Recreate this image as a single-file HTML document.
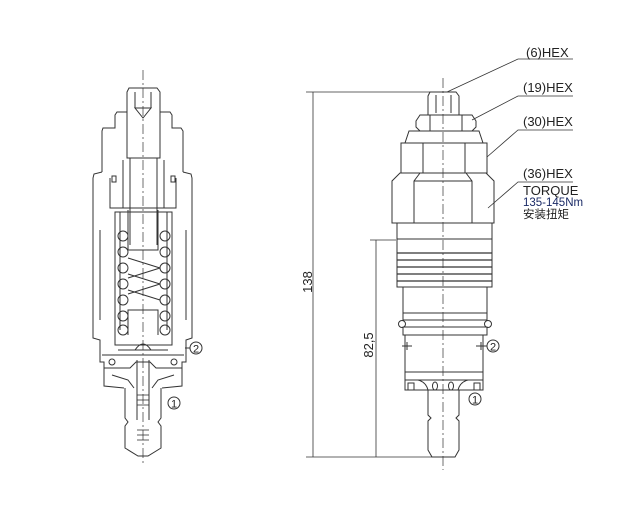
<!DOCTYPE html>
<html><head><meta charset="utf-8"><style>
html,body{margin:0;padding:0;background:#fff;}
svg{display:block;}
text{font-family:"Liberation Sans","Noto Sans CJK SC",sans-serif;fill:#222;}
</style></head><body>
<svg width="636" height="521" viewBox="0 0 636 521" xmlns="http://www.w3.org/2000/svg">
<g fill="none" stroke="#333" stroke-width="1">
<!-- LEFT SECTION VIEW -->
<line x1="143" y1="70" x2="143" y2="465" stroke-dasharray="10,3,2,3" stroke-width="0.7"/>
<path d="M129,88 L157,88 L160,92 L160,158 L127,158 L127,92 Z"/>
<line x1="135" y1="92" x2="135" y2="108"/><line x1="151" y1="92" x2="151" y2="108"/>
<path d="M135,108 L151,108 L143,118 Z"/>
<path d="M127,112 L117,112 L115,115 L115,128 L103,128 L102,131 L102,172"/>
<path d="M160,112 L170,112 L172,115 L172,128 L181,128 L183,131 L183,172"/>
<path d="M102,172 L94,174 L93,178 L93,338 L100,340 L100,362 L104,362 L104,386 L124,388"/>
<path d="M183,172 L191,174 L192,178 L192,338 L186,340 L186,362 L182,362 L182,386 L162,388"/>
<line x1="100" y1="230" x2="100" y2="320"/><line x1="186" y1="230" x2="186" y2="320"/>
<line x1="130" y1="158" x2="130" y2="245"/><line x1="157" y1="158" x2="157" y2="245"/>
<path d="M123,160 L123,208 M164,160 L164,208"/>
<path d="M110,178 L110,208 L176,208 L176,178"/>
<rect x="112" y="176" width="4" height="6"/><rect x="171" y="176" width="4" height="6"/>
<path d="M115,212 L115,345 L172,345 L172,212 Z"/>
<path d="M120,212 L120,330 M167,212 L167,330"/>
<path d="M128,210 L128,250 L158,250 L158,210"/>
<path d="M128,335 L128,310 L158,310 L158,335"/>
<g>
<circle cx="123" cy="236" r="5"/><circle cx="123" cy="252" r="5"/><circle cx="123" cy="268" r="5"/><circle cx="123" cy="284" r="5"/><circle cx="123" cy="300" r="5"/><circle cx="123" cy="316" r="5"/><circle cx="123" cy="330" r="5"/>
<circle cx="165" cy="236" r="5"/><circle cx="165" cy="252" r="5"/><circle cx="165" cy="268" r="5"/><circle cx="165" cy="284" r="5"/><circle cx="165" cy="300" r="5"/><circle cx="165" cy="316" r="5"/><circle cx="165" cy="330" r="5"/>
<path d="M128,258 L160,268 M128,274 L160,284 M128,290 L160,300 M128,278 L160,268 M128,294 L160,284"/>
</g>
<path d="M118,350 L168,350 M135,350 Q143,338 151,350"/>
<path d="M102,355 L184,355"/>
<path d="M104,368 L130,368 L136,362 L150,362 L156,368 L182,368"/>
<path d="M112,375 L128,380 L134,388 M174,375 L158,380 L152,388"/>
<circle cx="112" cy="362" r="3"/><circle cx="174" cy="362" r="3"/>
<path d="M137,360 L137,420 M149,360 L149,420"/>
<path d="M125,388 L125,418 L128,422 L125,426 L125,448 L138,456 L148,456 L161,448 L161,426 L158,422 L161,418 L161,388"/>
<g stroke-width="0.8">
<line x1="137" y1="395" x2="149" y2="395"/><line x1="137" y1="400" x2="149" y2="400"/><line x1="137" y1="405" x2="149" y2="405"/>
<line x1="137" y1="430" x2="149" y2="430"/><line x1="137" y1="435" x2="149" y2="435"/><line x1="137" y1="440" x2="149" y2="440"/>
</g>
<circle cx="196" cy="348" r="6"/><circle cx="174" cy="403" r="6"/>
<line x1="185" y1="348" x2="190" y2="348"/>

<!-- RIGHT VIEW -->
<line x1="443" y1="78" x2="443" y2="470" stroke-dasharray="10,3,2,3" stroke-width="0.7"/>
<line x1="306" y1="92" x2="440" y2="92" stroke-width="0.7"/>
<line x1="306" y1="457" x2="432" y2="457" stroke-width="0.7"/>
<line x1="313" y1="92" x2="313" y2="457" stroke-width="0.8"/>
<line x1="370" y1="240" x2="396" y2="240" stroke-width="0.7"/>
<line x1="376" y1="240" x2="376" y2="457" stroke-width="0.8"/>
<path d="M430,92 L456,92 L459,96 L459,115 L428,115 L428,96 Z"/>
<line x1="436" y1="95" x2="436" y2="113"/><line x1="451" y1="95" x2="451" y2="113"/>
<path d="M420,115 L472,115 L476,121 L476,127 L472,131 L420,131 L416,127 L416,121 Z"/>
<line x1="430" y1="115" x2="430" y2="131"/><line x1="462" y1="115" x2="462" y2="131"/>
<path d="M409,131 L479,131 L483,143 L405,143 Z"/>
<rect x="401" y="143" width="86" height="30"/>
<line x1="423" y1="143" x2="423" y2="173"/><line x1="465" y1="143" x2="465" y2="173"/>
<path d="M400,173 L486,173 L494,181 L494,223 L392,223 L392,181 Z"/>
<path d="M420,173 L414,181 L414,223 M466,173 L472,181 L472,223 M414,181 L472,181"/>
<rect x="397" y="223" width="95" height="16"/>
<rect x="397" y="239" width="95" height="48"/>
<g stroke-width="1.2">
<line x1="397" y1="253" x2="492" y2="253"/><line x1="397" y1="260" x2="492" y2="260"/><line x1="397" y1="267" x2="492" y2="267"/><line x1="397" y1="274" x2="492" y2="274"/><line x1="397" y1="281" x2="492" y2="281"/>
</g>
<path d="M403,287 L403,313 M487,287 L487,313"/>
<rect x="403" y="313" width="84" height="7"/>
<rect x="403" y="327" width="84" height="8"/>
<circle cx="402" cy="324" r="3.5"/><circle cx="488" cy="324" r="3.5"/>
<path d="M405,335 L405,372 M483,335 L483,372"/>
<line x1="402" y1="346" x2="412" y2="346"/><line x1="476" y1="346" x2="487" y2="346"/>
<line x1="407" y1="342" x2="407" y2="350"/><line x1="481" y1="342" x2="481" y2="350"/>
<rect x="405" y="372" width="78" height="8"/>
<path d="M405,380 L405,390 L483,390 L483,380"/>
<rect x="408" y="383" width="6" height="7"/><rect x="474" y="383" width="6" height="7"/>
<path d="M418,380 Q426,382 428,390 M468,380 Q460,382 458,390"/>
<ellipse cx="435" cy="386" rx="2.5" ry="4"/><ellipse cx="451" cy="386" rx="2.5" ry="4"/>
<path d="M428,390 L428,415 L431,418 L428,421 L428,450 L432,457 L455,457 L459,450 L459,421 L456,418 L459,415 L459,390"/>
<circle cx="493" cy="346" r="6"/><circle cx="475" cy="399" r="6"/>
<line x1="487" y1="346" x2="480" y2="346"/>
<g stroke-width="0.8">
<polyline points="447,92 518,59 573,59"/>
<polyline points="472,120 518,96 573,96"/>
<polyline points="487,157 518,130 573,130"/>
<polyline points="488,208 518,182 573,182"/>
</g>
</g>
<g>
<text x="196" y="352.5" font-size="11" text-anchor="middle">2</text>
<text x="174" y="407.5" font-size="11" text-anchor="middle">1</text>
<text x="493" y="350.5" font-size="11" text-anchor="middle">2</text>
<text x="475" y="403.5" font-size="11" text-anchor="middle">1</text>
<text x="526" y="57" font-size="13">(6)HEX</text>
<text x="523" y="92" font-size="13">(19)HEX</text>
<text x="523" y="126" font-size="13">(30)HEX</text>
<text x="523" y="178" font-size="13">(36)HEX</text>
<text x="523" y="195" font-size="13">TORQUE</text>
<text x="523" y="206" font-size="11.5" style="fill:#1a2a66">135-145Nm</text>
<text x="523" y="218" font-size="11.5">安装扭矩</text>
<text transform="translate(312,282) rotate(-90)" font-size="13" text-anchor="middle">138</text>
<text transform="translate(373,345) rotate(-90)" font-size="13" text-anchor="middle">82,5</text>
</g>
</svg>
</body></html>
